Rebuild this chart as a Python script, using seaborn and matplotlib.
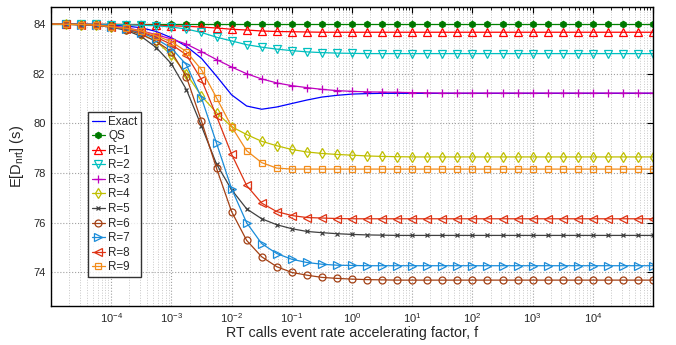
import numpy as np
import pandas as pd
import matplotlib
matplotlib.use("Agg")
import matplotlib.pyplot as plt
from matplotlib.ticker import LogLocator, NullFormatter, FixedLocator
import seaborn as sns

# ---- data (log10 f from -5 to 5 in steps of 0.25) ----
log_f = [-5 + 0.25 * i for i in range(41)]

exact = [84.0, 83.99, 83.99, 83.98, 83.96, 83.92, 83.85, 83.70, 83.45, 83.10,
         82.62, 81.90, 81.15, 80.70, 80.57, 80.66, 80.80, 80.94, 81.06, 81.13,
         81.18, 81.20] + [81.21] * 19
qs = [84.0] * 41
r1 = [84.0, 84.0, 84.0, 83.99, 83.99, 83.98, 83.97, 83.95, 83.93, 83.91,
      83.88, 83.84, 83.79, 83.76, 83.72, 83.70, 83.69, 83.68, 83.67] + [83.67] * 22
r2 = [84.0, 84.0, 83.99, 83.99, 83.98, 83.97, 83.95, 83.93, 83.88, 83.80,
      83.66, 83.47, 83.32, 83.17, 83.07, 82.99, 82.93, 82.88, 82.85, 82.83,
      82.82] + [82.81] * 20
r3 = [84.0, 83.99, 83.98, 83.96, 83.93, 83.85, 83.73, 83.57, 83.40, 83.19,
      82.89, 82.57, 82.27, 82.00, 81.79, 81.63, 81.52, 81.44, 81.37, 81.32,
      81.29, 81.27, 81.26, 81.25, 81.24, 81.23] + [81.22] * 15
r4 = [84.0, 83.99, 83.98, 83.96, 83.90, 83.80, 83.60, 83.30, 82.75, 82.00,
      81.10, 80.43, 79.87, 79.55, 79.28, 79.10, 78.95, 78.85, 78.79, 78.75,
      78.72, 78.69, 78.67, 78.66] + [78.65] * 17
r5 = [84.0, 83.99, 83.97, 83.95, 83.87, 83.75, 83.50, 83.05, 82.40, 81.36,
      79.89, 78.36, 77.33, 76.56, 76.16, 75.92, 75.76, 75.65, 75.60, 75.56,
      75.53, 75.51, 75.50] + [75.49] * 18
r6 = [84.0, 83.99, 83.98, 83.95, 83.88, 83.78, 83.58, 83.30, 82.89, 81.87,
      80.09, 78.19, 76.45, 75.29, 74.63, 74.23, 74.00, 73.89, 73.80, 73.76,
      73.73, 73.71, 73.70] + [73.69] * 18
r7 = [84.0, 83.99, 83.98, 83.96, 83.89, 83.80, 83.65, 83.40, 83.03, 82.36,
      81.03, 79.20, 77.37, 76.00, 75.16, 74.76, 74.53, 74.40, 74.33, 74.29,
      74.28] + [74.27] * 20
r8 = [84.0, 83.99, 83.98, 83.96, 83.90, 83.82, 83.68, 83.47, 83.18, 82.76,
      81.76, 80.29, 78.76, 77.50, 76.79, 76.45, 76.29, 76.21, 76.19, 76.17] + [76.16] * 21
r9 = [84.0, 83.99, 83.98, 83.96, 83.89, 83.83, 83.72, 83.53, 83.29, 82.89,
      82.16, 81.03, 79.87, 78.90, 78.42, 78.20, 78.16] + [78.16] * 24

series_names = ["Exact", "QS", "R=1", "R=2", "R=3", "R=4", "R=5", "R=6", "R=7", "R=8", "R=9"]
series_vals = [exact, qs, r1, r2, r3, r4, r5, r6, r7, r8, r9]
x_tick_exponents = [-4, -3, -2, -1, 0, 1, 2, 3, 4]
y_ticks = [74, 76, 78, 80, 82, 84]

styles = {
    "Exact": dict(color=(0, 0, 1), marker=None),
    "QS": dict(color=(0, 0.5, 0), marker="h", mfc=(0, 0.45, 0), ms=4.5),
    "R=1": dict(color=(1, 0, 0), marker="^", mfc="none", ms=5.5),
    "R=2": dict(color=(0, 0.75, 0.75), marker="v", mfc="none", ms=5.5),
    "R=3": dict(color=(0.75, 0, 0.75), marker="+", ms=6),
    "R=4": dict(color=(0.75, 0.75, 0), marker="d", mfc="none", ms=5.5),
    "R=5": dict(color=(0.25, 0.25, 0.25), marker="x", ms=3.5),
    "R=6": dict(color=(0.64, 0.25, 0.08), marker="o", mfc="none", ms=5),
    "R=7": dict(color=(0.1, 0.55, 0.85), marker=">", mfc="none", ms=5.5),
    "R=8": dict(color=(0.87, 0.2, 0.08), marker="<", mfc="none", ms=5.5),
    "R=9": dict(color=(0.95, 0.55, 0.1), marker="s", mfc="none", ms=4.5),
}

sns.set_style("white")
plt.rcParams["font.family"] = ["Liberation Sans", "DejaVu Sans"]
plt.rcParams["mathtext.fontset"] = "custom"
plt.rcParams["mathtext.rm"] = "Liberation Sans"
plt.rcParams["mathtext.it"] = "Liberation Sans"

fig = plt.figure(figsize=(6.76, 3.45), dpi=100)
ax = fig.add_axes([0.0754, 0.1139, 0.8906, 0.8668])

f_vals = [10 ** v for v in log_f]
for name, vals in zip(series_names, series_vals):
    st = dict(styles[name])
    color = st.pop("color")
    marker = st.pop("marker")
    kw = dict(color=color, linewidth=0.9, label=name, ax=ax)
    if marker is not None:
        kw.update(marker=marker, markevery=slice(1, None), mec=color,
                  mew=0.9, **st)
    sns.lineplot(x=f_vals, y=vals, **kw)

ax.set_xscale("log")
ax.set_xlim(1e-5, 1e5)
ax.set_ylim(72.66, 84.70)
ax.xaxis.set_major_locator(FixedLocator([10.0 ** e for e in range(-5, 6)]))
ax.set_xticklabels([""] + [f"$10^{{{e}}}$" for e in x_tick_exponents] + [""])
ax.xaxis.set_minor_locator(LogLocator(base=10, subs=np.arange(2, 10), numticks=100))
ax.xaxis.set_minor_formatter(NullFormatter())
ax.set_yticks(y_ticks)
ax.set_yticklabels([str(t) for t in y_ticks])

ax.grid(True, which="major", axis="both", linestyle=":", color="#a0a0a0", linewidth=0.8)
ax.grid(True, which="minor", axis="x", linestyle=":", color="#c8c8c8", linewidth=0.7)
ax.tick_params(which="both", direction="in", top=True, right=True, labelsize=8, color="black")
ax.tick_params(which="major", length=4, width=0.8, pad=4)
ax.tick_params(which="minor", length=2, width=0.6)
for sp in ax.spines.values():
    sp.set_color("black")
    sp.set_linewidth(1.0)

ax.set_xlabel("RT calls event rate accelerating factor, f", fontsize=10.3, labelpad=1)
ax.set_ylabel("E[D$_{nrt}$] (s)", fontsize=10.5, labelpad=5)

leg = ax.legend(loc="upper left", bbox_to_anchor=(0.0615, 0.648), borderaxespad=0,
                fontsize=8.4, frameon=True, fancybox=False, edgecolor="black",
                handlelength=1.15, handletextpad=0.28, labelspacing=0.22,
                borderpad=0.32)
leg.get_frame().set_linewidth(1.0)

fig.savefig("out.png", dpi=100)
